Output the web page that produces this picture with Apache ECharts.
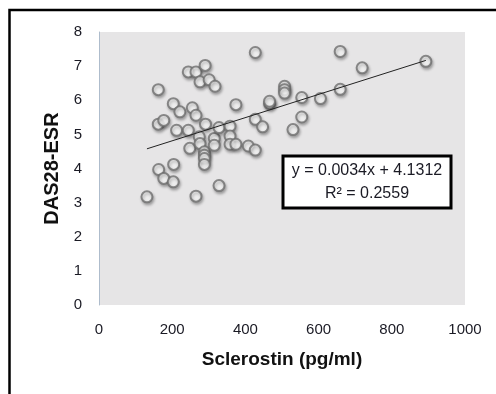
<!DOCTYPE html>
<html>
<head>
<meta charset="utf-8">
<style>
  html, body { margin: 0; padding: 0; background: #fff; }
  #chart { width: 496px; height: 394px; }
</style>
<script src="https://cdn.jsdelivr.net/npm/echarts@6/dist/echarts.min.js"></script>
</head>
<body>
<div id="chart"></div>
<script>
// sclerostin (pg/ml) vs DAS28-ESR
const sclerostin = [
  131, 162, 162, 177, 163, 177, 203, 221, 204, 203,
  212, 244, 244, 265, 290, 276, 301, 317, 255, 265,
  291, 248, 274, 276, 265, 288, 288, 288, 288, 315,
  315, 328, 328, 358, 358, 358, 374, 374, 408, 427,
  427, 447, 427, 466, 466, 507, 507, 507, 530, 554,
  554, 605, 659, 659, 719, 893
]
const das28 = [
  3.17, 6.31, 5.30, 5.41, 3.97, 3.71, 5.90, 5.66, 4.12, 3.61,
  5.12, 5.12, 6.83, 6.83, 7.02, 6.54, 6.60, 6.41, 5.78, 5.56,
  5.30, 4.59, 4.93, 4.73, 3.19, 4.49, 4.39, 4.29, 4.12, 4.88,
  4.68, 5.20, 3.50, 5.24, 4.95, 4.71, 4.71, 5.87, 4.66, 4.54,
  5.44, 5.22, 7.40, 5.90, 5.97, 6.41, 6.31, 6.21, 5.14, 6.08,
  5.51, 6.05, 7.43, 6.32, 6.95, 7.14
]

// linear trendline as printed on the chart
const slope = 0.0034
const intercept = 4.1312
const trendX = [131, 893]
const xTicks = [0, 200, 400, 600, 800, 1000]
const yTicks = [0, 1, 2, 3, 4, 5, 6, 7, 8]

const points = sclerostin.map((x, i) => [x, das28[i]])
const trend = trendX.map((x) => [x, slope * x + intercept])

const font = '"Liberation Sans", Arial, sans-serif'

const chart = echarts.init(document.getElementById('chart'), null, {renderer: 'canvas'})
chart.setOption({
  animation: false,
  backgroundColor: '#fff',
  grid: {left: 99, right: 31, top: 32, bottom: 89, show: true, backgroundColor: '#e6e5e6', borderWidth: 0},
  xAxis: {
    type: 'value',
    min: xTicks[0],
    max: xTicks[xTicks.length - 1],
    interval: 200,
    name: 'Sclerostin (pg/ml)',
    nameLocation: 'middle',
    nameGap: 45,
    nameTextStyle: {fontFamily: font, fontSize: 19, fontWeight: 'bold', color: '#111'},
    axisLine: {show: false},
    axisTick: {show: false},
    splitLine: {show: false},
    axisLabel: {fontFamily: font, fontSize: 15, color: '#1a1a24', margin: 17, formatter: (v) => String(v)},
  },
  yAxis: {
    type: 'value',
    min: yTicks[0],
    max: yTicks[yTicks.length - 1],
    interval: 1,
    name: 'DAS28-ESR',
    nameLocation: 'middle',
    nameGap: 35,
    nameTextStyle: {fontFamily: font, fontSize: 20, fontWeight: 'bold', color: '#111'},
    axisLine: {show: true, lineStyle: {color: '#aebccc', width: 1}},
    axisTick: {show: false},
    splitLine: {show: false},
    axisLabel: {fontFamily: font, fontSize: 15, color: '#1a1a24', margin: 17},
  },
  series: [
    {
      type: 'line',
      data: trend,
      symbol: 'none',
      lineStyle: {color: '#222', width: 1},
      z: 3,
    },
    {
      type: 'scatter',
      data: points,
      symbol: 'circle',
      symbolSize: 11,
      itemStyle: {
        color: '#fff',
        borderColor: '#6f6f6f',
        borderWidth: 2,
        shadowColor: 'rgba(0,0,0,0.35)',
        shadowBlur: 3,
        shadowOffsetX: 1,
        shadowOffsetY: 2,
      },
      z: 2,
    },
  ],
  graphic: [
    // outer frame: only the top and left edges are inside the picture
    {
      type: 'polyline',
      shape: {points: [[9.5, 394], [9.5, 10], [496, 10]]},
      style: {fill: 'none', stroke: '#000', lineWidth: 2.5},
      silent: true,
    },
    {
      type: 'rect',
      shape: {x: 283, y: 156, width: 168, height: 52},
      style: {fill: '#fff', stroke: '#000', lineWidth: 3},
      z: 10,
    },
    {
      type: 'text',
      x: 367,
      y: 171,
      style: {text: 'y = 0.0034x + 4.1312', fontFamily: font, fontSize: 16, fill: '#1a1a24', align: 'center', verticalAlign: 'middle'},
      z: 11,
    },
    {
      type: 'text',
      x: 367,
      y: 194,
      style: {text: 'R² = 0.2559', fontFamily: font, fontSize: 16, fill: '#1a1a24', align: 'center', verticalAlign: 'middle'},
      z: 11,
    },
  ],
})
</script>
</body>
</html>
